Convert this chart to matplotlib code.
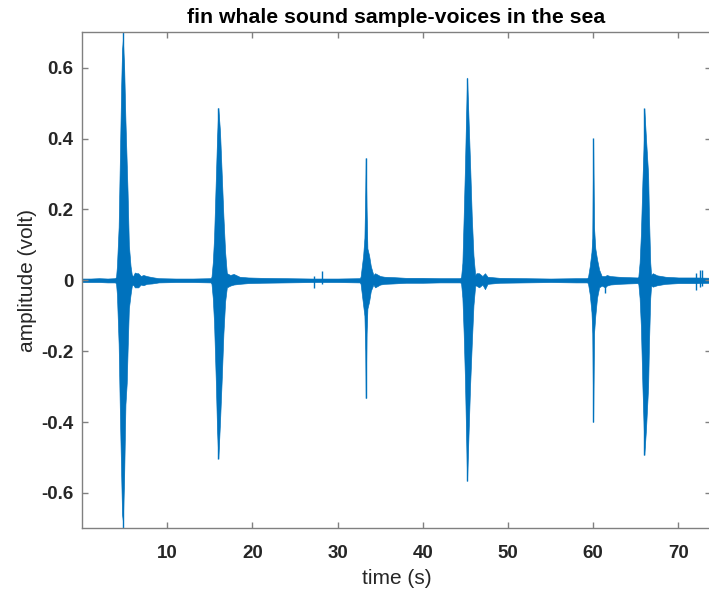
import matplotlib
matplotlib.use("Agg")
import matplotlib.pyplot as plt

plt.rcParams['font.family'] = ['Liberation Sans', 'DejaVu Sans']
plt.rcParams['axes.unicode_minus'] = False

env_time = [0.0, 1.0, 2.0, 3.0, 3.9,
            4.0, 4.1, 4.3, 4.45, 4.6, 4.7, 4.8, 4.95, 5.1, 5.25, 5.35, 5.5, 5.7, 5.85,
            6.0, 6.2, 6.4, 6.6, 6.9, 7.2, 7.6, 8.2, 9.0, 11.0, 13.0, 15.1,
            15.2, 15.35, 15.5, 15.7, 15.85, 16.0, 16.2, 16.4, 16.6, 16.8, 17.0,
            17.4, 17.8, 18.5, 19.5, 21.0, 24.0, 27.0, 30.0, 32.6,
            32.7, 32.85, 33.0, 33.15, 33.25, 33.3, 33.4, 33.5, 33.7, 33.9, 34.2,
            34.4, 35.0, 35.5, 36.5, 38.0, 40.0, 42.0, 44.4,
            44.5, 44.65, 44.8, 44.95, 45.07, 45.2, 45.35, 45.55, 45.75, 45.95, 46.15,
            46.3, 46.6, 47.0, 47.3, 47.6, 49.0, 52.0, 55.0, 58.0, 59.3,
            59.4, 59.6, 59.8, 59.9, 60.0, 60.1, 60.25, 60.45, 60.7, 61.0,
            61.4, 61.6, 62.0, 63.0, 64.0, 65.2,
            65.3, 65.45, 65.6, 65.78, 65.95, 66.0, 66.2, 66.45, 66.55, 66.7, 66.8,
            67.0, 67.5, 68.5, 70.0, 72.0, 74.0]
env_upper = [0.005, 0.005, 0.006, 0.005, 0.006,
             0.01, 0.04, 0.15, 0.35, 0.55, 0.65, 0.68, 0.60, 0.45, 0.33, 0.25, 0.10, 0.04, 0.015,
             0.012, 0.022, 0.02, 0.02, 0.012, 0.015, 0.012, 0.009, 0.006, 0.005, 0.005, 0.006,
             0.01, 0.05, 0.12, 0.28, 0.40, 0.487, 0.42, 0.30, 0.18, 0.08, 0.02,
             0.015, 0.018, 0.01, 0.008, 0.007, 0.006, 0.005, 0.005, 0.006,
             0.01, 0.04, 0.07, 0.12, 0.25, 0.345, 0.20, 0.09, 0.07, 0.04, 0.015,
             0.02, 0.012, 0.01, 0.009, 0.007, 0.007, 0.006, 0.006,
             0.01, 0.05, 0.18, 0.32, 0.45, 0.572, 0.47, 0.33, 0.18, 0.07, 0.015,
             0.02, 0.02, 0.012, 0.02, 0.01, 0.007, 0.006, 0.005, 0.006, 0.006,
             0.01, 0.04, 0.08, 0.12, 0.40, 0.15, 0.09, 0.06, 0.03, 0.012,
             0.012, 0.015, 0.012, 0.01, 0.009, 0.008,
             0.01, 0.05, 0.13, 0.28, 0.40, 0.485, 0.40, 0.30, 0.18, 0.05, 0.015,
             0.02, 0.014, 0.01, 0.008, 0.008, 0.007]
env_lower = [-0.005, -0.005, -0.005, -0.006, -0.006,
             -0.01, -0.04, -0.18, -0.38, -0.55, -0.66, -0.68, -0.55, -0.35, -0.29, -0.20, -0.08, -0.04, -0.015,
             -0.012, -0.02, -0.02, -0.02, -0.012, -0.014, -0.01, -0.009, -0.006, -0.005, -0.005, -0.006,
             -0.01, -0.05, -0.12, -0.28, -0.42, -0.503, -0.40, -0.28, -0.15, -0.06, -0.02,
             -0.015, -0.012, -0.01, -0.008, -0.007, -0.006, -0.005, -0.005, -0.006,
             -0.01, -0.04, -0.07, -0.10, -0.20, -0.333, -0.15, -0.08, -0.06, -0.03, -0.012,
             -0.02, -0.012, -0.01, -0.009, -0.007, -0.007, -0.006, -0.006,
             -0.01, -0.05, -0.15, -0.28, -0.42, -0.566, -0.45, -0.30, -0.18, -0.07, -0.015,
             -0.015, -0.02, -0.012, -0.025, -0.01, -0.007, -0.006, -0.005, -0.006, -0.006,
             -0.01, -0.04, -0.09, -0.15, -0.40, -0.15, -0.10, -0.05, -0.02, -0.015,
             -0.02, -0.015, -0.012, -0.01, -0.009, -0.008,
             -0.01, -0.05, -0.13, -0.30, -0.43, -0.493, -0.42, -0.30, -0.18, -0.05, -0.015,
             -0.018, -0.014, -0.01, -0.008, -0.008, -0.007]

# thin spikes (peak excursions)
spike_time = [4.77, 16.0, 33.3, 45.2, 60.0, 66.0, 27.2, 28.2, 61.4, 72.1, 72.5, 72.8]
spike_top = [0.75, 0.487, 0.345, 0.572, 0.402, 0.485, 0.012, 0.025, 0.01, 0.02, 0.03, 0.028]
spike_bottom = [-0.75, -0.503, -0.333, -0.566, -0.399, -0.493, -0.022, -0.01, -0.035, -0.028, -0.02, -0.015]

x_ticks = [10, 20, 30, 40, 50, 60, 70]
y_ticks = [-0.6, -0.4, -0.2, 0, 0.2, 0.4, 0.6]
y_tick_labels = ['-0.6', '-0.4', '-0.2', '0', '0.2', '0.4', '0.6']

line_color = '#0072BD'
axis_color = '#808080'

fig = plt.figure(figsize=(7.09, 5.94), dpi=100)
ax = fig.add_axes([82 / 709, 1 - 528.3 / 594, (711 - 82) / 709, (528.3 - 32.3) / 594])

ax.fill_between(env_time, env_lower, env_upper, color=line_color, linewidth=0.45,
                edgecolor=line_color)
ax.vlines(spike_time, spike_bottom, spike_top, color=line_color, linewidth=1.0)

ax.set_xlim(0, 73.83)
ax.set_ylim(-0.7, 0.7)
ax.set_xticks(x_ticks)
ax.set_yticks(y_ticks)
ax.set_yticklabels(y_tick_labels)

for s in ax.spines.values():
    s.set_color(axis_color)
    s.set_linewidth(1.0)
ax.tick_params(direction='in', length=4.3, width=1.0, color=axis_color,
               top=True, right=True, labelsize=13.5, labelcolor='#262626')
ax.tick_params(axis='x', pad=12)
ax.tick_params(axis='y', pad=6)
for lab in ax.get_xticklabels() + ax.get_yticklabels():
    lab.set_fontweight('bold')

ax.set_title('fin whale sound sample-voices in the sea', fontsize=15.3,
             fontweight='bold', color='black', pad=7)
ax.set_xlabel('time (s)', fontsize=15, color='#262626', labelpad=5)
ax.set_ylabel('amplitude (volt)', fontsize=15, color='#262626', labelpad=3)

fig.savefig('out.png', dpi=100)
